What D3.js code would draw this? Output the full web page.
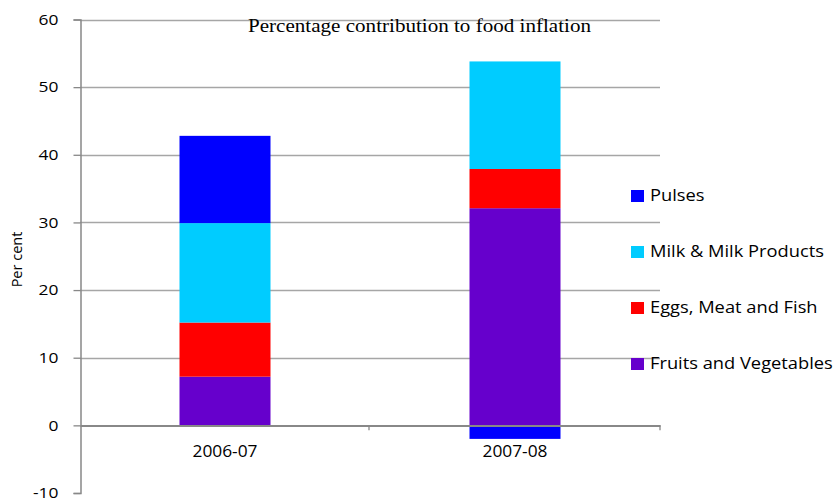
<!DOCTYPE html>
<html><head><meta charset="utf-8">
<script src="https://cdn.jsdelivr.net/npm/d3@7"></script>
<style>body{margin:0;background:#fff}</style>
</head><body>
<svg id="c" width="835" height="502"></svg>
<script>
const categories = ["2006-07", "2007-08"];
const seriesNames = ["Fruits and Vegetables", "Eggs, Meat and Fish", "Milk & Milk Products", "Pulses"];
const fruitsVeg = [7.2, 32.1];
const eggsMeatFish = [8.0, 5.8];
const milkProducts = [14.7, 15.9];
const pulses = [12.9, -2.0];
const seriesColors = ["#6600cc", "#ff0000", "#00ccff", "#0000ff"];
const yTicks = [-10, 0, 10, 20, 30, 40, 50, 60];
const legendOrder = ["Pulses", "Milk & Milk Products", "Eggs, Meat and Fish", "Fruits and Vegetables"];

(function () {
const values = [fruitsVeg, eggsMeatFish, milkProducts, pulses];
const rows = categories.map((c, i) => {
  const r = {cat: c};
  seriesNames.forEach((s, j) => r[s] = values[j][i]);
  return r;
});
const stacked = d3.stack().keys(seriesNames).offset(d3.stackOffsetDiverging)(rows);

const svg = d3.select("#c");
const FONT = "'Open Sans', sans-serif";
const mLeft = 80, mRight = 660, mTop = 19.5, mBottom = 493;
const x = d3.scaleBand().domain(categories).range([mLeft, mRight]).paddingInner(0).paddingOuter(0);
const y = d3.scaleLinear().domain([-10, 60]).range([mBottom, mTop]);
const barW = 91;
const color = d3.scaleOrdinal().domain(seriesNames).range(seriesColors);

// gridlines
svg.append("g").selectAll("line").data(yTicks.filter(t => t !== 0 && t !== -10)).join("line")
  .attr("x1", mLeft).attr("x2", mRight)
  .attr("y1", d => Math.round(y(d)) + 0.5).attr("y2", d => Math.round(y(d)) + 0.5)
  .attr("stroke", "#a6a6a6").attr("stroke-width", 1.3);

// bars
svg.append("g").selectAll("g").data(stacked).join("g")
  .attr("fill", d => color(d.key))
  .selectAll("rect").data(d => d).join("rect")
  .attr("x", d => x(d.data.cat) + x.bandwidth() / 2 - barW / 2)
  .attr("width", barW)
  .attr("y", d => y(Math.max(d[0], d[1])))
  .attr("height", d => Math.abs(y(d[0]) - y(d[1])));

// y axis
const yAxis = svg.append("g").attr("transform", `translate(${mLeft + 0.5},0)`)
  .call(d3.axisLeft(y).tickValues(yTicks).tickSize(7).tickFormat(d => String(d)));
yAxis.select(".domain").attr("stroke", "#888").attr("stroke-width", 1.5);
yAxis.selectAll(".tick line").attr("stroke", "#888").attr("stroke-width", 1.3);
yAxis.selectAll("text").attr("font-family", FONT).attr("font-size", 14.5).attr("fill", "#000")
  .attr("x", 0).attr("transform", "translate(-22,0) scale(1.2,1)");

// zero axis
const xAxis = svg.append("g").attr("transform", `translate(0,${Math.round(y(0)) + 0.5})`)
  .call(d3.axisBottom(x).tickSize(0));
xAxis.select(".domain").attr("stroke", "#888").attr("stroke-width", 1.8);
xAxis.selectAll("text").attr("font-family", FONT).attr("font-size", 15.5).attr("fill", "#000")
  .attr("dy", null).attr("y", 31.5).attr("transform", "scale(1.12,1)");
// category boundary ticks
svg.append("g").selectAll("line").data(categories.slice(1)).join("line")
  .attr("x1", d => x(d) - 1).attr("x2", d => x(d) - 1)
  .attr("y1", y(0)).attr("y2", y(0) + 5)
  .attr("stroke", "#888").attr("stroke-width", 1.3);
svg.append("line").attr("x1", mRight).attr("x2", mRight).attr("y1", y(0)).attr("y2", y(0) + 5)
  .attr("stroke", "#888").attr("stroke-width", 1.3);

// y title
svg.append("text").attr("transform", `translate(22,259.5) rotate(-90)`)
  .attr("text-anchor", "middle").attr("font-family", FONT).attr("font-size", 14.5)
  .text("Per cent");

// chart title
svg.append("text").attr("x", 248).attr("y", 32)
  .attr("textLength", 343).attr("lengthAdjust", "spacingAndGlyphs")
  .attr("font-family", "'Liberation Serif', 'Times New Roman', serif").attr("font-size", 18)
  .text("Percentage contribution to food inflation");

// legend
const lg = svg.append("g").selectAll("g").data(legendOrder).join("g")
  .attr("transform", (d, i) => `translate(631,${196 + i * 56})`);
lg.append("rect").attr("x", 0).attr("y", -6).attr("width", 13).attr("height", 12).attr("fill", d => color(d));
lg.append("text").attr("x", 0).attr("y", 0).attr("dy", "0.35em")
  .attr("transform", "translate(19,0) scale(1.18,1)")
  .attr("font-family", FONT).attr("font-size", 15.5).text(d => d);
})();
</script>
</body></html>
